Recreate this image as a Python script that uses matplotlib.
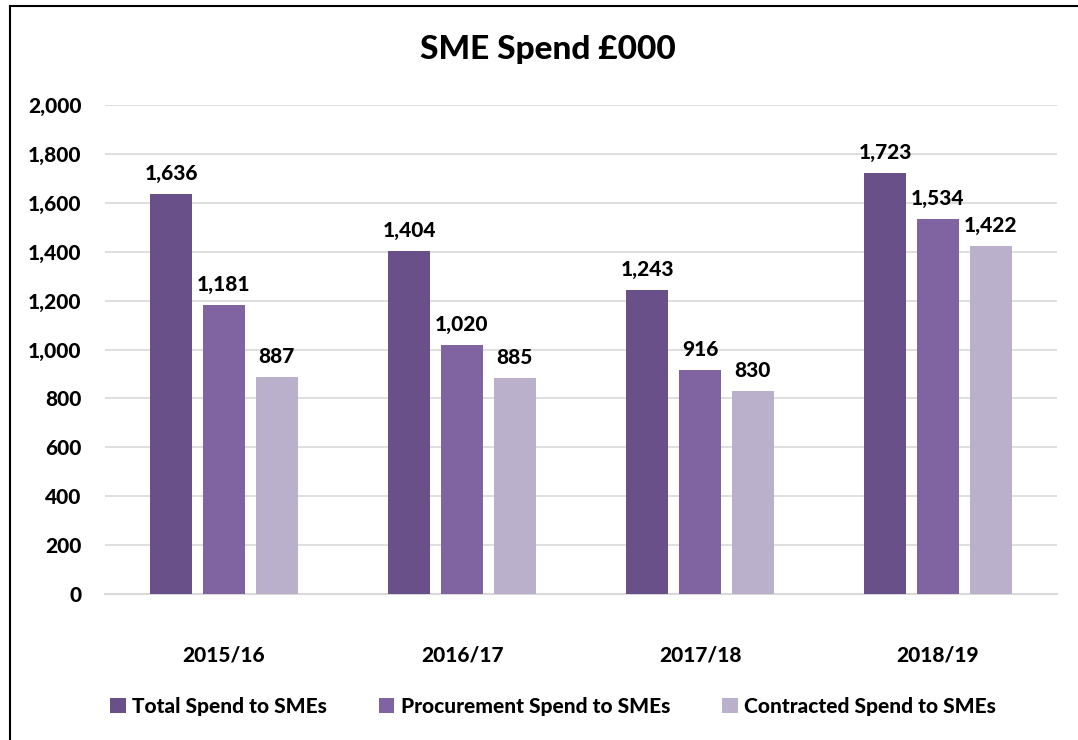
import matplotlib
matplotlib.use("Agg")
import matplotlib.pyplot as plt
import numpy as np
from matplotlib.lines import Line2D
from matplotlib.patches import Patch

categories = ["2015/16", "2016/17", "2017/18", "2018/19"]
series_names = ["Total Spend to SMEs", "Procurement Spend to SMEs", "Contracted Spend to SMEs"]
total = [1636, 1404, 1243, 1723]
procurement = [1181, 1020, 916, 1534]
contracted = [887, 885, 830, 1422]
colors = ["#6A5088", "#8064A2", "#BAB0CB"]
yticks = [0, 200, 400, 600, 800, 1000, 1200, 1400, 1600, 1800, 2000]

plt.rcParams['font.family'] = ['Lato', 'DejaVu Sans']
FW = 900
FS = 15

W, H = 1078, 740
fig = plt.figure(figsize=(W / 100, H / 100), dpi=100)
ax = fig.add_axes([105 / W, 1 - 594 / H, (1057 - 105) / W, (594 - 105) / H])

x = np.arange(len(categories))
pitch = 0.222
bw = 0.176
for i, vals in enumerate([total, procurement, contracted]):
    pos = x + (i - 1) * pitch
    ax.bar(pos, vals, width=bw, color=colors[i], zorder=3, label=series_names[i])
    for p, v in zip(pos, vals):
        ax.text(p, v + 45, f"{v:,}", ha="center", va="bottom", fontsize=FS,
                fontweight=FW, color="#000000")

ax.set_xlim(-0.5, len(categories) - 0.5)
ax.set_ylim(0, 2000)
ax.set_yticks(yticks)
ax.set_yticklabels([f"{t:,}" for t in yticks], fontsize=FS, fontweight=FW)
ax.set_xticks(x)
ax.set_xticklabels(categories, fontsize=FS, fontweight=FW)
ax.tick_params(axis="both", length=0)
ax.tick_params(axis="y", pad=17)
ax.tick_params(axis="x", pad=37)
ax.grid(axis="y", color="#D9D9D9", linewidth=1.2, zorder=0)
for s in ["top", "right", "left"]:
    ax.spines[s].set_visible(False)
ax.spines["bottom"].set_color("#D9D9D9")
ax.spines["bottom"].set_linewidth(1.5)

fig.text(548 / W, 1 - 50 / H, "SME Spend £000", ha="center", va="center",
         fontsize=24, fontweight=FW)

handles = [Patch(facecolor=c) for c in colors]
leg = fig.legend(handles, series_names, loc="center", bbox_to_anchor=(553 / W, 1 - 706 / H),
                 ncol=3, frameon=False, handlelength=0.75, handleheight=0.75,
                 handletextpad=0.3, columnspacing=2.5,
                 prop={"weight": FW, "size": FS, "family": ["Lato", "DejaVu Sans"]})

fig.add_artist(Line2D([10 / W, 10 / W], [0, 1 - 6 / H], transform=fig.transFigure,
                      color="black", linewidth=1.5))
fig.add_artist(Line2D([10 / W, 1], [1 - 6 / H, 1 - 6 / H], transform=fig.transFigure,
                      color="black", linewidth=1.5))

fig.savefig("out.png", dpi=100)
